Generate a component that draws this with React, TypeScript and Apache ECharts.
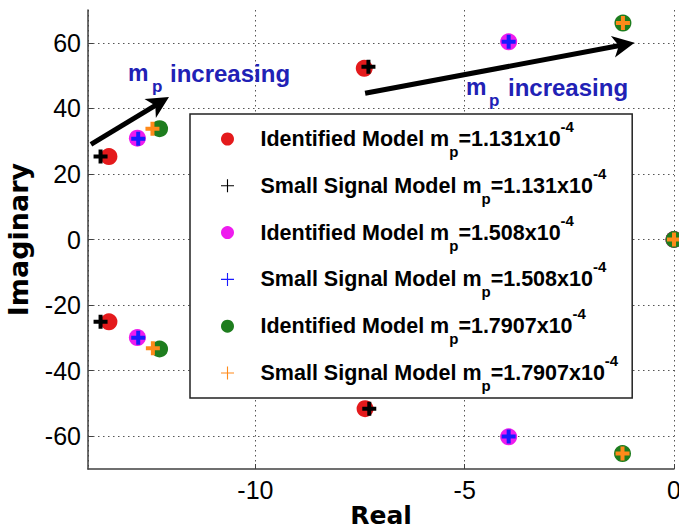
import React, { useEffect, useRef } from 'react';
import * as echarts from 'echarts';

// Pole locations [Real, Imaginary]
const seriesNames = [
  'Identified Model mp=1.131x10-4',
  'Small Signal Model mp=1.131x10-4',
  'Identified Model mp=1.508x10-4',
  'Small Signal Model mp=1.508x10-4',
  'Identified Model mp=1.7907x10-4',
  'Small Signal Model mp=1.7907x10-4',
];
const legendLabels = [
  ['Identified Model m', 'p', '=1.131x10', '-4'],
  ['Small Signal Model m', 'p', '=1.131x10', '-4'],
  ['Identified Model m', 'p', '=1.508x10', '-4'],
  ['Small Signal Model m', 'p', '=1.508x10', '-4'],
  ['Identified Model m', 'p', '=1.7907x10', '-4'],
  ['Small Signal Model m', 'p', '=1.7907x10', '-4'],
];

const identified1 = [[-13.5, 25.3], [-13.5, -25.1], [-7.4, 52.2], [-7.38, -51.6], [0, 0]];
const smallSignal1 = [[-13.7, 25.3], [-13.7, -25.1], [-7.3, 52.7], [-7.28, -51.6], [0, 0]];
const identified2 = [[-12.82, 30.9], [-12.82, -29.9], [-3.95, 60.3], [-3.95, -60.2], [0, 0]];
const smallSignal2 = [[-12.8, 30.7], [-12.8, -30.0], [-3.95, 60.3], [-3.95, -60.1], [0, 0]];
const identified3 = [[-12.29, 33.8], [-12.29, -33.4], [-1.22, 66.0], [-1.23, -65.3], [0, 0]];
const smallSignal3 = [[-12.46, 33.8], [-12.45, -33.2], [-1.22, 66.0], [-1.23, -65.3], [0, 0]];

const seriesData = [identified1, smallSignal1, identified2, smallSignal2, identified3, smallSignal3];
const seriesColors = ['#e41a1c', '#000000', '#ee1cee', '#1a1aff', '#1e7d1e', '#ff8a1a'];

// Annotation arrows (data coordinates): [start, end]
const arrow1 = [[-13.93, 29.0], [-12.29, 41.7]];
const arrow2 = [[-7.38, 44.6], [-1.2, 59.4]];

const xMin = -14;
const xMax = 0;
const yMin = -70;
const yMax = 70;

const PLUS_BOLD = 'path://M5,0H9V5H14V9H9V14H5V9H0V5H5Z';
const PLUS_THIN = 'path://M6.4,0H7.6V6.4H14V7.6H7.6V14H6.4V7.6H0V6.4H6.4Z';
const ARROW_HEAD = 'path://M10,0L20,22L10,16L0,22Z';

const SANS = '"Liberation Sans", Arial, sans-serif';
const BLUE = '#2121b5';

export default function App() {
  const ref = useRef<HTMLDivElement>(null);

  useEffect(() => {
    if (!ref.current) return;
    const chart = echarts.init(ref.current, null, { renderer: 'svg' });

    const richMap: Record<string, string> = {};
    seriesNames.forEach((n, i) => {
      const [a, b, c, d] = legendLabels[i];
      richMap[n] = `{n|${a}}{sub|${b}}{n|${c}}{sup|${d}}`;
    });

    const isIdentified = (i: number) => i % 2 === 0;

    const series: any[] = seriesNames.map((name, i) => ({
      name,
      type: 'scatter',
      data: seriesData[i],
      symbol: isIdentified(i) ? 'circle' : PLUS_BOLD,
      symbolSize: isIdentified(i) ? 17 : 14,
      itemStyle: { color: seriesColors[i], opacity: 1 },
      silent: true,
      clip: false,
      z: 2 + i,
    }));

    series[0].markLine = {
      silent: true,
      animation: false,
      symbol: ['none', ARROW_HEAD],
      symbolSize: 22,
      label: { show: false },
      lineStyle: { color: '#000', width: 5, type: 'solid', opacity: 1 },
      emphasis: { disabled: true },
      data: [
        [{ coord: arrow1[0] }, { coord: arrow1[1] }],
        [{ coord: arrow2[0] }, { coord: arrow2[1] }],
      ],
    };

    const yGridColors = ['transparent', '#555', '#555', '#555', '#555', '#555', '#555', '#555', 'transparent'];

    const blueText = (text: string, x: number, y: number, size: number) => ({
      type: 'text',
      x,
      y,
      silent: true,
      z: 20,
      style: {
        text,
        fill: BLUE,
        fontSize: size,
        fontWeight: 'bold',
        fontFamily: SANS,
        align: 'left',
        verticalAlign: 'middle',
        textAlign: 'left',
        textVerticalAlign: 'middle',
      },
    });

    chart.setOption({
      animation: false,
      backgroundColor: '#ffffff',
      textStyle: { fontFamily: SANS },
      grid: { left: 88, right: 5, top: 10, bottom: 62, containLabel: false, outerBoundsMode: 'none' },
      xAxis: {
        type: 'value',
        min: xMin,
        max: xMax,
        splitNumber: 3,
        name: 'Real',
        nameLocation: 'middle',
        nameGap: 34,
        nameMoveOverlap: false,
        nameTextStyle: { fontFamily: '"DejaVu Sans", sans-serif', fontWeight: 'bold', fontSize: 25, color: '#000' },
        axisLine: { show: true, onZero: false, lineStyle: { color: '#404040', width: 1.5 } },
        axisTick: { show: true, inside: true, length: 5, lineStyle: { color: '#404040' } },
        axisLabel: { showMinLabel: false, showMaxLabel: true, margin: 8, fontSize: 25, color: '#000', fontFamily: SANS },
        splitLine: { show: true, lineStyle: { color: '#555', type: [1.5, 3.5], width: 1 } },
      },
      yAxis: {
        type: 'value',
        min: yMin,
        max: yMax,
        splitNumber: 7,
        name: 'Imaginary',
        nameLocation: 'middle',
        nameGap: 56,
        nameMoveOverlap: false,
        nameTextStyle: { fontFamily: '"DejaVu Sans", sans-serif', fontWeight: 'bold', fontSize: 27, color: '#000' },
        axisLine: { show: true, onZero: false, lineStyle: { color: '#404040', width: 1.5 } },
        axisTick: { show: true, inside: true, length: 5, lineStyle: { color: '#404040' } },
        axisLabel: { showMinLabel: false, showMaxLabel: false, margin: 7, fontSize: 25, color: '#000', fontFamily: SANS },
        splitLine: { show: true, lineStyle: { color: yGridColors, type: [1.5, 3.5], width: 1 } },
      },
      legend: {
        show: true,
        orient: 'vertical',
        left: 190,
        top: 114,
        padding: [5, 14, 5, 31],
        itemGap: 6.8,
        itemWidth: 56,
        itemHeight: 13,
        symbolKeepAspect: true,
        selectedMode: false,
        backgroundColor: '#ffffff',
        borderColor: '#222',
        borderWidth: 1.5,
        z: 10,
        data: seriesNames.map((name, i) => ({
          name,
          icon: isIdentified(i) ? 'circle' : PLUS_THIN,
          itemStyle: { color: seriesColors[i] },
        })),
        formatter: (name: string) => richMap[name] || name,
        textStyle: {
          color: '#000',
          fontFamily: SANS,
          fontSize: 21.5,
          fontWeight: 'bold',
          rich: {
            n: { fontFamily: SANS, fontSize: 21.5, fontWeight: 'bold', color: '#000', lineHeight: 40 },
            sub: { fontFamily: SANS, fontSize: 15, fontWeight: 'bold', color: '#000', lineHeight: 15, verticalAlign: 'bottom' },
            sup: { fontFamily: SANS, fontSize: 15, fontWeight: 'bold', color: '#000', lineHeight: 22, verticalAlign: 'top' },
          },
        },
      },
      graphic: [
        blueText('m', 128, 73, 23),
        blueText('p', 152, 86, 17),
        blueText('increasing', 170, 73, 24),
        blueText('m', 466, 87, 23),
        blueText('p', 489, 100, 17),
        blueText('increasing', 508, 87, 24),
      ],
      series,
    });

    return () => chart.dispose();
  }, []);

  return (
    <div
      ref={ref}
      style={{ position: 'fixed', left: 0, top: 0, width: 679, height: 531, background: '#fff' }}
    />
  );
}
